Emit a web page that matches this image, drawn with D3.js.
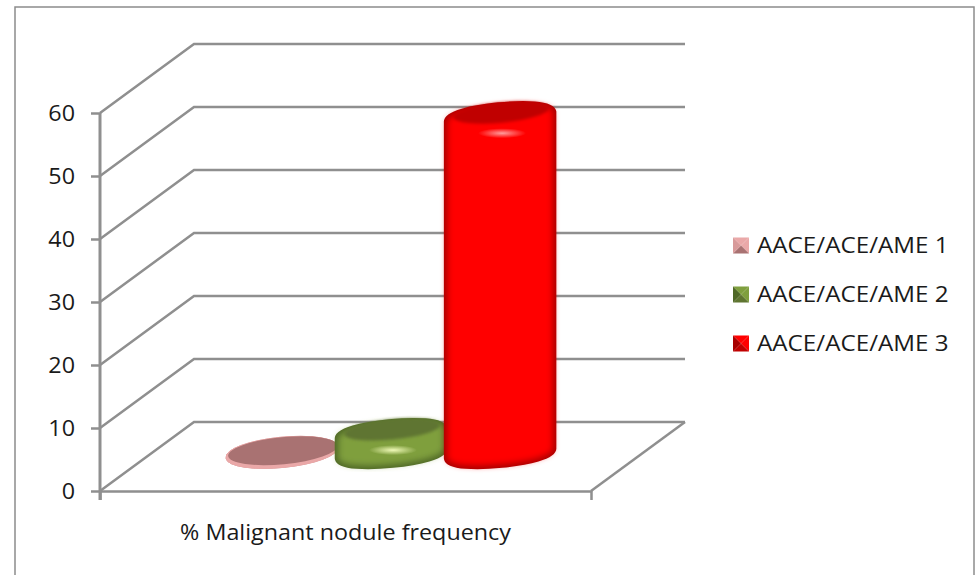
<!DOCTYPE html>
<html>
<head>
<meta charset="utf-8">
<script src="https://cdn.jsdelivr.net/npm/d3@7"></script>
<style>
  html, body { margin: 0; padding: 0; background: #fff; }
  svg { display: block; }
  text { font-family: "Open Sans", sans-serif; fill: #1a1a1a; }
</style>
</head>
<body>
<div id="chart"></div>
<script>
// data
var category = ["% Malignant nodule frequency"];
var series = ["AACE/ACE/AME 1", "AACE/ACE/AME 2", "AACE/ACE/AME 3"];
var values = [0.2, 3, 53.3];
var y_ticks = [0, 10, 20, 30, 40, 50, 60];

// colours per series: edge, body, top, highlight
var color_edge = ["#d89a9a", "#4f6826", "#a80000"];
var color_body = ["#eaa8a8", "#7f9f3e", "#ff0000"];
var color_top = ["#a97272", "#5f7530", "#c00000"];
var color_light = ["#e8a6a6", "#f0fab8", "#ff9c9c"];

var width = 979;
var height = 575;
var color_axis = "#8f8f8f";
var depth_x = 94;
var depth_y = -69;
var rx = 56.5, ry = 15, tilt = -5.5;

var svg = d3.select("#chart").append("svg")
  .attr("width", width)
  .attr("height", height);

var defs = svg.append("defs");
defs.append("filter").attr("id", "soft")
  .append("feGaussianBlur").attr("stdDeviation", 1.8);
var inner_blur = defs.append("filter").attr("id", "inner")
  .attr("x", "-20%").attr("y", "-20%").attr("width", "140%").attr("height", "140%");
inner_blur.append("feGaussianBlur").attr("stdDeviation", 3);

// chart frame, bottom edge is cut off by the picture
svg.append("rect")
  .attr("x", 15).attr("y", 7)
  .attr("width", 959).attr("height", 590)
  .attr("fill", "#fff")
  .attr("stroke", "#8c8c8c")
  .attr("stroke-width", 1.5);

var y_scale = d3.scaleLinear().domain([0, 60]).range([491, 113]);
var x_cat = d3.scaleBand().domain(category).range([100, 591]);
var x_scale = d3.scaleBand().domain(series).range([100, 591]).paddingInner(0).paddingOuter(0.75);

// walls
var grid = svg.append("g")
  .attr("fill", "none")
  .attr("stroke", color_axis)
  .attr("stroke-width", 2.5);

y_ticks.forEach(function(t) {
  var y = y_scale(t);
  grid.append("path")
    .attr("d", d3.line()([[100, y], [100 + depth_x, y + depth_y], [591 + depth_x, y + depth_y]]));
});
grid.append("path")
  .attr("d", d3.line()([[591, y_scale(0)], [591 + depth_x, y_scale(0) + depth_y]]));

// axes
var y_axis = d3.axisLeft(y_scale).tickValues(y_ticks).tickSize(9).tickSizeOuter(0).tickPadding(16);
var gy = svg.append("g").attr("transform", "translate(100,0)").call(y_axis);
gy.select(".domain").attr("d", "M0," + y_scale(60) + "V" + (y_scale(0) + 9));

var x_axis = d3.axisBottom(x_cat).tickSizeInner(0).tickSizeOuter(9).tickPadding(33);
var gx = svg.append("g").attr("transform", "translate(0," + y_scale(0) + ")").call(x_axis);

svg.selectAll(".domain, .tick line")
  .attr("stroke", color_axis)
  .attr("stroke-width", 2.5);
gy.select(".domain").attr("stroke-width", 3);
svg.selectAll(".tick text")
  .attr("font-size", 22)
  .attr("fill", "#1a1a1a")
  .style("font-family", '"Open Sans", sans-serif');
gy.selectAll(".tick text").attr("dy", "0.36em");
gx.selectAll(".tick text").attr("dy", "0.71em");

// reference text is a little stretched sideways
function stretch(sel, k) {
  sel.each(function() {
    d3.select(this)
      .attr("textLength", this.getComputedTextLength() * k)
      .attr("lengthAdjust", "spacingAndGlyphs");
  });
}
stretch(svg.selectAll(".tick text"), 1.06);

// cylinder outline, inset by corner so a wide round stroke softens it
function cylinder_path(cx, top, base, corner) {
  var irx = rx - corner, iry = ry - corner;
  var th = tilt * Math.PI / 180;
  var t0 = Math.atan((iry / irx) * Math.tan(th));
  var ex = irx * Math.cos(t0) * Math.cos(th) - iry * Math.sin(t0) * Math.sin(th);
  var ey = irx * Math.cos(t0) * Math.sin(th) + iry * Math.sin(t0) * Math.cos(th);
  var arc = "A" + irx + "," + iry + " " + tilt + " 0 0 ";
  return "M" + (cx - ex) + "," + (top - ey) +
    "L" + (cx - ex) + "," + (base - ey) +
    arc + (cx + ex) + "," + (base + ey) +
    "L" + (cx + ex) + "," + (top + ey) +
    arc + (cx - ex) + "," + (top - ey) + "Z";
}

series.forEach(function(s, i) {
  var glow = defs.append("radialGradient").attr("id", "glow" + i);
  glow.append("stop").attr("offset", 0).attr("stop-color", color_light[i]);
  glow.append("stop").attr("offset", 1).attr("stop-color", color_light[i]).attr("stop-opacity", 0);
});

var bars = svg.selectAll("g.bar")
  .data(series)
  .enter().append("g")
  .attr("class", "bar");

bars.each(function(s, i) {
  var g = d3.select(this);
  var cx = x_scale(s) + x_scale.bandwidth() / 2 + 45.5;
  var base = y_scale(0) - 38;
  var top = y_scale(values[i]) - 38;
  var tall = values[i] > 1;
  var corner = tall ? 6 : 0.5;
  var d = cylinder_path(cx, top, base, corner);

  // dark silhouette
  g.append("path")
    .attr("d", d)
    .attr("fill", color_edge[i])
    .attr("stroke", color_edge[i])
    .attr("stroke-width", corner * 2)
    .attr("stroke-linejoin", "round");

  // bright core, blurred so the edges fall off
  g.append("path")
    .attr("d", d)
    .attr("fill", color_body[i])
    .attr("stroke", color_body[i])
    .attr("stroke-width", Math.max(1, corner * 2 - 7))
    .attr("stroke-linejoin", "round")
    .attr("filter", tall ? "url(#inner)" : null);

  // darker lid, the flat disc is nearly all lid
  var lid_y = top - (tall ? 4.5 : 1);
  g.append("ellipse")
    .attr("cx", cx + 1).attr("cy", lid_y)
    .attr("rx", tall ? 48 : 55).attr("ry", tall ? 10 : 13.5)
    .attr("transform", "rotate(" + tilt + " " + (cx + 1) + " " + lid_y + ")")
    .attr("fill", color_top[i])
    .attr("filter", tall ? "url(#soft)" : null);

  // small shine on the front rim
  if (tall) {
    g.append("ellipse")
      .attr("cx", cx + 2).attr("cy", top + 16)
      .attr("rx", 24).attr("ry", 5)
      .attr("fill", "url(#glow" + i + ")");
  }
});

// legend
var legend_y = d3.scalePoint().domain(series).range([245.5, 343.5]);
var m = 8;
var legend = svg.selectAll("g.legend")
  .data(series)
  .enter().append("g")
  .attr("class", "legend")
  .attr("transform", function(d) { return "translate(741," + legend_y(d) + ")"; });

legend.each(function(s, i) {
  var g = d3.select(this);
  var c = [[-m, -m], [m, -m], [m, m], [-m, m]];
  var shades = [color_body[i], color_body[i], color_top[i], color_edge[i]];
  c.forEach(function(p, k) {
    g.append("path")
      .attr("d", d3.line()([p, c[(k + 1) % 4], [0, 0]]) + "Z")
      .attr("fill", shades[k]);
  });
});

var legend_text = legend.append("text")
  .attr("x", 16)
  .attr("dy", "0.36em")
  .attr("font-size", 22)
  .text(function(d) { return d; });
stretch(legend_text, 1.1);
</script>
</body>
</html>
